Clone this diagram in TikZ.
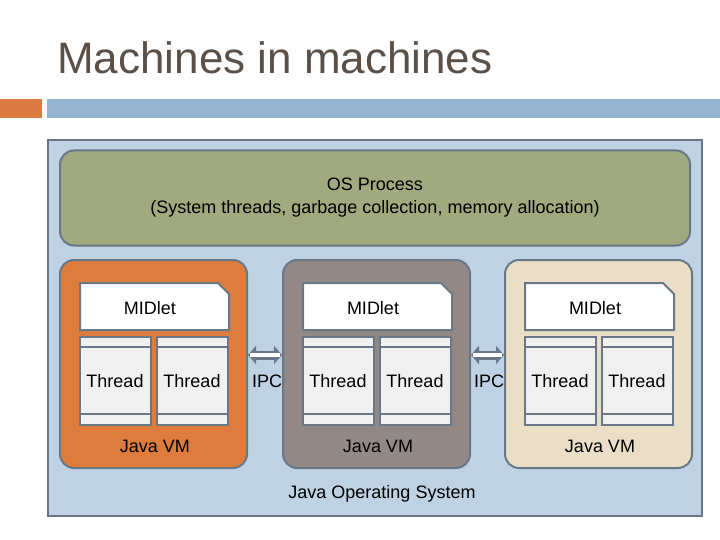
\documentclass[tikz,border=0pt]{standalone}
\usepackage{fontspec}
\setmainfont{Liberation Sans}
\usetikzlibrary{positioning}
\usetikzlibrary{arrows.meta}
\definecolor{titlegray}{RGB}{90,80,72}
\definecolor{barorange}{RGB}{219,122,66}
\definecolor{barblue}{RGB}{149,180,208}
\definecolor{panelblue}{RGB}{190,210,228}
\definecolor{edgegray}{RGB}{105,120,135}
\definecolor{osgreen}{RGB}{161,170,126}
\definecolor{vmorange}{RGB}{221,124,60}
\definecolor{vmgray}{RGB}{146,136,134}
\definecolor{vmbeige}{RGB}{234,222,198}
\definecolor{threadfill}{RGB}{240,240,240}
\tikzset{
    % Rounded container boxes
    container/.style={draw=edgegray, line width=2pt, rounded corners=14pt},
%
    % The inner white and grey boxes
    inner box/.style={draw=edgegray, line width=2pt},
%
    % Plain label text
    label text/.style={font=\fontsize{18}{21}\selectfont, inner sep=0},
%
    % Hollow double arrow for IPC
    ipc arrow/.style={draw=edgegray, line width=9pt,
        {Triangle[length=8pt,width=18pt]}-{Triangle[length=8pt,width=18pt]},
        postaction={draw=white, line width=4pt, shorten <=2pt, shorten >=2pt, -}}}
\begin{document}
\begin{tikzpicture}[x=1pt, y=-1pt]

\useasboundingbox (0,0) rectangle (720,540);

% Title and bars
\node [anchor=west, text=titlegray, font=\fontsize{44}{50}\selectfont,
    inner sep=0] (title) at (57,58) {Machines in machines};
\fill [barorange] (0,99) rectangle (42,118);
\fill [barblue] (47,99) rectangle (720,118);

% Outer panel
\draw [draw=edgegray, line width=2pt, fill=panelblue]
    (48,140) rectangle (702,516);
\node [label text] (jos) at (382,494) {Java Operating System};

% OS process
\node [container, fill=osgreen, minimum width=630pt, minimum height=95pt,
    align=center, font=\fontsize{18}{23}\selectfont] (os) at (375,198)
    {OS Process\\(System threads, garbage collection, memory allocation)};

% Virtual machines
\foreach \i/\dx/\col in {1/0/vmorange, 2/223/vmgray, 3/445/vmbeige} {
    \begin{scope}[xshift=\dx pt]
    \node [container, fill=\col, minimum width=187pt, minimum height=208pt]
        (vm\i) at (153.5,364) {};
    \node [label text] (vmlabel\i) at (155,446) {Java VM};
    \draw [inner box, fill=white]
        (80,283) -- (218,283) -- (229,294) -- (229,330) -- (80,330) -- cycle;
    \node [label text] (midlet\i) at (150,308) {MIDlet};
    \foreach \tx/\t in {80/a, 157/b} {
        \draw [inner box, fill=threadfill] (\tx,337) rectangle ++(71,88);
        \draw [edgegray, line width=2pt] (\tx,347) -- ++(71,0);
        \draw [edgegray, line width=2pt] (\tx,414) -- ++(71,0);
    }
    \node [label text] (thread\i a) at (115,381) {Thread};
    \node [label text] (thread\i b) at (192,381) {Thread};
    \end{scope}
}

% IPC links
\draw [ipc arrow] (vm1.east |- 0,355) -- (vm2.west |- 0,355);
\draw [ipc arrow] (vm2.east |- 0,355) -- (vm3.west |- 0,355);
\node [label text] (ipc1) at (267,381) {IPC};
\node [label text] (ipc2) at (489,381) {IPC};

\end{tikzpicture}
\end{document}
